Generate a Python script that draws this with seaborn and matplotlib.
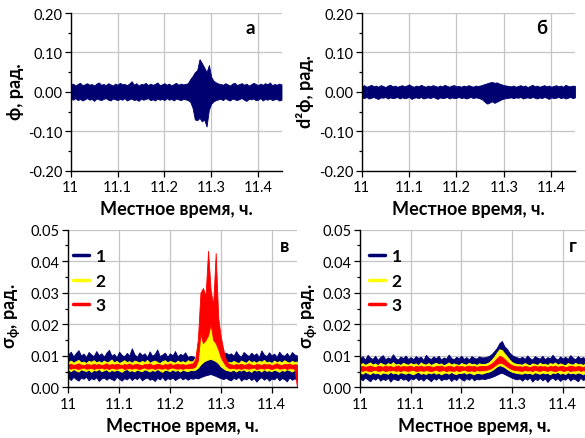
import matplotlib
matplotlib.use("Agg")
import matplotlib.pyplot as plt
import pandas as pd
import seaborn as sns
from matplotlib.lines import Line2D
from matplotlib.ticker import FixedLocator, FixedFormatter, MultipleLocator

# ---------------- data ----------------
T = [11.000, 11.005, 11.010, 11.015, 11.020, 11.025, 11.030, 11.035, 11.040, 11.045,
     11.050, 11.055, 11.060, 11.065, 11.070, 11.075, 11.080, 11.085, 11.090, 11.095,
     11.100, 11.105, 11.110, 11.115, 11.120, 11.125, 11.130, 11.135, 11.140, 11.145,
     11.150, 11.155, 11.160, 11.165, 11.170, 11.175, 11.180, 11.185, 11.190, 11.195,
     11.200, 11.205, 11.210, 11.215, 11.220, 11.225, 11.230, 11.235, 11.240, 11.245,
     11.250, 11.255, 11.260, 11.265, 11.270, 11.275, 11.280, 11.285, 11.290, 11.295,
     11.300, 11.305, 11.310, 11.315, 11.320, 11.325, 11.330, 11.335, 11.340, 11.345,
     11.350, 11.355, 11.360, 11.365, 11.370, 11.375, 11.380, 11.385, 11.390, 11.395,
     11.400, 11.405, 11.410, 11.415, 11.420, 11.425, 11.430, 11.435, 11.440, 11.445,
     11.450]

# panel a: phase, upper / lower envelope of the noisy record
PHI_HI = [0.018, 0.021, 0.016, 0.020, 0.023, 0.017, 0.019,
          0.022, 0.018, 0.020, 0.016, 0.021, 0.024, 0.018,
          0.020, 0.017, 0.022, 0.019, 0.016, 0.021, 0.018,
          0.023, 0.019, 0.020, 0.017, 0.021, 0.027, 0.018,
          0.022, 0.016, 0.020, 0.019, 0.023, 0.017, 0.021,
          0.018, 0.020, 0.024, 0.017, 0.019, 0.022, 0.018,
          0.021, 0.016, 0.020, 0.023, 0.018, 0.021, 0.019,
          0.020, 0.022, 0.032, 0.040, 0.050, 0.055, 0.083, 0.073, 0.062, 0.050, 0.068, 0.038, 0.028, 0.024, 0.021,
          0.020, 0.018, 0.022, 0.019, 0.016, 0.021, 0.023, 0.017, 0.020,
          0.022, 0.018, 0.021, 0.016, 0.019, 0.023, 0.020, 0.017, 0.021,
          0.018, 0.022, 0.019, 0.024, 0.017, 0.020, 0.018, 0.021, 0.019]
PHI_LO = [-0.017, -0.020, -0.016, -0.021, -0.018, -0.022, -0.019,
          -0.016, -0.020, -0.018, -0.023, -0.017, -0.019, -0.021,
          -0.018, -0.016, -0.020, -0.022, -0.017, -0.019, -0.021,
          -0.018, -0.020, -0.016, -0.022, -0.019, -0.017, -0.021,
          -0.019, -0.023, -0.017, -0.020, -0.018, -0.016, -0.021,
          -0.019, -0.022, -0.017, -0.020, -0.018, -0.021, -0.016,
          -0.020, -0.018, -0.022, -0.017, -0.019, -0.021, -0.018,
          -0.019, -0.021, -0.025, -0.040, -0.070, -0.072, -0.066, -0.075, -0.070, -0.088, -0.045, -0.030, -0.024, -0.021, -0.019,
          -0.018, -0.021, -0.016, -0.020, -0.022, -0.017, -0.019, -0.021, -0.018,
          -0.016, -0.020, -0.023, -0.018, -0.019, -0.017, -0.021, -0.020, -0.016,
          -0.022, -0.018, -0.020, -0.017, -0.021, -0.019, -0.018, -0.022, -0.020]

# panel b: second difference of phase
D2_HI = [0.014, 0.017, 0.013, 0.015, 0.018, 0.014, 0.016,
         0.013, 0.017, 0.015, 0.012, 0.016, 0.018, 0.014,
         0.016, 0.013, 0.015, 0.017, 0.014, 0.016, 0.019,
         0.015, 0.013, 0.016, 0.014, 0.018, 0.015, 0.013,
         0.016, 0.014, 0.017, 0.015, 0.013, 0.016, 0.014,
         0.018, 0.015, 0.013, 0.016, 0.017, 0.014, 0.015,
         0.013, 0.016, 0.014, 0.017, 0.015, 0.013, 0.016,
         0.015, 0.016, 0.018, 0.020, 0.022, 0.024, 0.025, 0.023, 0.024, 0.021, 0.019, 0.017, 0.016, 0.015, 0.014,
         0.016, 0.013, 0.015, 0.017, 0.014, 0.016, 0.012, 0.015, 0.018,
         0.014, 0.016, 0.013, 0.015, 0.017, 0.014, 0.016, 0.013, 0.015,
         0.017, 0.014, 0.016, 0.013, 0.018, 0.015, 0.014, 0.016, 0.015]
D2_LO = [-0.014, -0.016, -0.013, -0.017, -0.015, -0.013, -0.016,
         -0.018, -0.014, -0.015, -0.013, -0.017, -0.014, -0.016,
         -0.015, -0.013, -0.017, -0.014, -0.016, -0.015, -0.013,
         -0.018, -0.015, -0.014, -0.016, -0.013, -0.017, -0.015,
         -0.014, -0.016, -0.013, -0.015, -0.018, -0.014, -0.016,
         -0.015, -0.013, -0.017, -0.014, -0.016, -0.015, -0.013,
         -0.016, -0.014, -0.017, -0.015, -0.013, -0.016, -0.014,
         -0.015, -0.017, -0.020, -0.026, -0.030, -0.027, -0.024, -0.028, -0.025, -0.022, -0.019, -0.017, -0.016, -0.015, -0.014,
         -0.016, -0.014, -0.015, -0.013, -0.017, -0.015, -0.014, -0.016, -0.013,
         -0.015, -0.017, -0.014, -0.016, -0.013, -0.015, -0.018, -0.014, -0.016,
         -0.015, -0.013, -0.016, -0.014, -0.017, -0.015, -0.013, -0.016, -0.014]

# panel v: sigma_phi, series 1, 2, 3
V1_HI = [0.0105, 0.0113, 0.0098, 0.0109, 0.0118, 0.0101, 0.0107,
         0.0096, 0.0112, 0.0104, 0.0099, 0.0115, 0.0102, 0.0108,
         0.0097, 0.0110, 0.0119, 0.0100, 0.0106, 0.0095, 0.0113,
         0.0103, 0.0098, 0.0109, 0.0101, 0.0124, 0.0105, 0.0097,
         0.0111, 0.0102, 0.0108, 0.0096, 0.0114, 0.0100, 0.0106,
         0.0120, 0.0099, 0.0104, 0.0110, 0.0097, 0.0108, 0.0101,
         0.0115, 0.0098, 0.0106, 0.0102, 0.0111, 0.0096, 0.0100,
         0.0098, 0.0095, 0.0092, 0.0090, 0.0092, 0.0095, 0.0100, 0.0102, 0.0098, 0.0095, 0.0090, 0.0100, 0.0106, 0.0110, 0.0104,
         0.0108, 0.0100, 0.0115, 0.0103, 0.0097, 0.0112, 0.0105, 0.0099, 0.0110,
         0.0102, 0.0108, 0.0096, 0.0117, 0.0104, 0.0099, 0.0111, 0.0101, 0.0107,
         0.0097, 0.0113, 0.0103, 0.0100, 0.0109, 0.0098, 0.0112, 0.0104, 0.0101]
V1_LO = [0.0030, 0.0023, 0.0033, 0.0026, 0.0021, 0.0031, 0.0027,
         0.0034, 0.0022, 0.0029, 0.0025, 0.0032, 0.0020, 0.0028,
         0.0031, 0.0024, 0.0030, 0.0026, 0.0022, 0.0033, 0.0027,
         0.0021, 0.0029, 0.0025, 0.0032, 0.0023, 0.0030, 0.0026,
         0.0033, 0.0022, 0.0028, 0.0031, 0.0024, 0.0027, 0.0020,
         0.0030, 0.0025, 0.0033, 0.0022, 0.0029, 0.0026, 0.0031,
         0.0023, 0.0028, 0.0032, 0.0025, 0.0030, 0.0024, 0.0029,
         0.0027, 0.0030, 0.0028, 0.0032, 0.0035, 0.0038, 0.0040, 0.0042, 0.0039, 0.0036, 0.0032, 0.0029, 0.0026, 0.0030, 0.0025,
         0.0022, 0.0030, 0.0026, 0.0033, 0.0021, 0.0028, 0.0025, 0.0031, 0.0023,
         0.0029, 0.0018, 0.0027, 0.0032, 0.0024, 0.0030, 0.0021, 0.0028, 0.0025,
         0.0033, 0.0022, 0.0029, 0.0026, 0.0019, 0.0031, 0.0024, 0.0028, 0.0026]
V2_HI = [0.0080, 0.0085, 0.0078, 0.0083, 0.0087, 0.0079, 0.0082,
         0.0077, 0.0084, 0.0081, 0.0086, 0.0079, 0.0083, 0.0078,
         0.0085, 0.0080, 0.0082, 0.0088, 0.0079, 0.0084, 0.0077,
         0.0081, 0.0086, 0.0080, 0.0083, 0.0078, 0.0085, 0.0082,
         0.0079, 0.0084, 0.0080, 0.0087, 0.0078, 0.0082, 0.0085,
         0.0080, 0.0077, 0.0083, 0.0086, 0.0079, 0.0084, 0.0081,
         0.0078, 0.0085, 0.0080, 0.0083, 0.0079, 0.0086, 0.0082,
         0.0083, 0.0095, 0.0150, 0.0200, 0.0160, 0.0165, 0.0175, 0.0240, 0.0165, 0.0150, 0.0132, 0.0100, 0.0088, 0.0082, 0.0080,
         0.0079, 0.0084, 0.0080, 0.0077, 0.0085, 0.0081, 0.0078, 0.0086, 0.0080,
         0.0083, 0.0078, 0.0084, 0.0081, 0.0087, 0.0079, 0.0082, 0.0077, 0.0085,
         0.0080, 0.0083, 0.0079, 0.0086, 0.0081, 0.0078, 0.0084, 0.0080, 0.0082]
V2_LO = [0.0056, 0.0051, 0.0058, 0.0053, 0.0050, 0.0057, 0.0054,
         0.0052, 0.0056, 0.0049, 0.0055, 0.0053, 0.0058, 0.0051,
         0.0054, 0.0057, 0.0050, 0.0055, 0.0052, 0.0056, 0.0053,
         0.0049, 0.0055, 0.0058, 0.0052, 0.0054, 0.0050, 0.0056,
         0.0053, 0.0051, 0.0057, 0.0054, 0.0050, 0.0055, 0.0052,
         0.0058, 0.0053, 0.0049, 0.0056, 0.0054, 0.0051, 0.0057,
         0.0052, 0.0055, 0.0050, 0.0056, 0.0053, 0.0051, 0.0055,
         0.0054, 0.0056, 0.0062, 0.0072, 0.0080, 0.0085, 0.0088, 0.0090, 0.0087, 0.0083, 0.0076, 0.0066, 0.0060, 0.0055, 0.0053,
         0.0052, 0.0056, 0.0050, 0.0055, 0.0053, 0.0057, 0.0051, 0.0054, 0.0049,
         0.0056, 0.0053, 0.0055, 0.0050, 0.0057, 0.0052, 0.0054, 0.0051, 0.0056,
         0.0053, 0.0049, 0.0055, 0.0052, 0.0057, 0.0054, 0.0050, 0.0055, 0.0053]
V3_HI = [0.0072, 0.0075, 0.0071, 0.0073, 0.0076, 0.0072, 0.0070,
         0.0074, 0.0073, 0.0071, 0.0075, 0.0072, 0.0074, 0.0070,
         0.0073, 0.0076, 0.0071, 0.0074, 0.0072, 0.0075, 0.0073,
         0.0070, 0.0074, 0.0072, 0.0076, 0.0071, 0.0073, 0.0075,
         0.0072, 0.0070, 0.0074, 0.0073, 0.0076, 0.0071, 0.0072,
         0.0075, 0.0073, 0.0070, 0.0074, 0.0072, 0.0076, 0.0071,
         0.0073, 0.0075, 0.0072, 0.0074, 0.0071, 0.0073, 0.0075,
         0.0076, 0.0090, 0.0153, 0.0300, 0.0315, 0.0290, 0.0433, 0.0310, 0.0260, 0.0426, 0.0220, 0.0160, 0.0120, 0.0088, 0.0076,
         0.0073, 0.0071, 0.0074, 0.0072, 0.0075, 0.0071, 0.0073, 0.0076, 0.0072,
         0.0070, 0.0074, 0.0073, 0.0071, 0.0075, 0.0072, 0.0074, 0.0070, 0.0073,
         0.0076, 0.0072, 0.0071, 0.0074, 0.0073, 0.0075, 0.0071, 0.0073, 0.0072]
V3_LO = [0.0061, 0.0059, 0.0062, 0.0060, 0.0058, 0.0061, 0.0063,
         0.0059, 0.0060, 0.0062, 0.0058, 0.0061, 0.0060, 0.0063,
         0.0059, 0.0061, 0.0058, 0.0062, 0.0060, 0.0059, 0.0061,
         0.0063, 0.0058, 0.0060, 0.0061, 0.0059, 0.0062, 0.0060,
         0.0058, 0.0061, 0.0063, 0.0059, 0.0060, 0.0062, 0.0058,
         0.0061, 0.0060, 0.0059, 0.0062, 0.0058, 0.0061, 0.0063,
         0.0060, 0.0059, 0.0061, 0.0058, 0.0062, 0.0060, 0.0061,
         0.0062, 0.0066, 0.0085, 0.0170, 0.0140, 0.0150, 0.0165, 0.0200, 0.0150, 0.0140, 0.0120, 0.0095, 0.0080, 0.0068, 0.0062,
         0.0060, 0.0062, 0.0059, 0.0061, 0.0058, 0.0062, 0.0060, 0.0059, 0.0061,
         0.0063, 0.0058, 0.0060, 0.0061, 0.0059, 0.0062, 0.0060, 0.0058, 0.0061,
         0.0063, 0.0059, 0.0060, 0.0062, 0.0058, 0.0061, 0.0060, 0.0059, 0.0000]

# panel g: sigma_phi, series 1, 2, 3
G1_HI = [0.0092, 0.0099, 0.0088, 0.0103, 0.0094, 0.0090, 0.0100,
         0.0087, 0.0096, 0.0102, 0.0089, 0.0095, 0.0091, 0.0105,
         0.0093, 0.0088, 0.0098, 0.0092, 0.0101, 0.0090, 0.0096,
         0.0089, 0.0099, 0.0093, 0.0097, 0.0087, 0.0103, 0.0094,
         0.0090, 0.0098, 0.0092, 0.0100, 0.0088, 0.0095, 0.0091,
         0.0104, 0.0093, 0.0089, 0.0097, 0.0092, 0.0100, 0.0090,
         0.0096, 0.0088, 0.0099, 0.0094, 0.0091, 0.0098, 0.0095,
         0.0095, 0.0097, 0.0100, 0.0106, 0.0115, 0.0125, 0.0140, 0.0147, 0.0130, 0.0122, 0.0110, 0.0102, 0.0098, 0.0095, 0.0092,
         0.0097, 0.0090, 0.0101, 0.0093, 0.0088, 0.0099, 0.0094, 0.0091, 0.0100,
         0.0089, 0.0096, 0.0092, 0.0103, 0.0093, 0.0088, 0.0098, 0.0091, 0.0097,
         0.0090, 0.0102, 0.0094, 0.0089, 0.0099, 0.0092, 0.0096, 0.0090, 0.0095]
G1_LO = [0.0028, 0.0022, 0.0031, 0.0025, 0.0019, 0.0029, 0.0024,
         0.0032, 0.0021, 0.0027, 0.0023, 0.0030, 0.0018, 0.0028,
         0.0025, 0.0022, 0.0031, 0.0024, 0.0027, 0.0020, 0.0029,
         0.0025, 0.0032, 0.0023, 0.0028, 0.0021, 0.0030, 0.0026,
         0.0019, 0.0029, 0.0024, 0.0031, 0.0022, 0.0027, 0.0025,
         0.0030, 0.0020, 0.0028, 0.0023, 0.0032, 0.0026, 0.0021,
         0.0029, 0.0024, 0.0031, 0.0022, 0.0027, 0.0025, 0.0028,
         0.0026, 0.0028, 0.0030, 0.0033, 0.0036, 0.0040, 0.0044, 0.0046, 0.0042, 0.0038, 0.0034, 0.0030, 0.0027, 0.0025, 0.0028,
         0.0021, 0.0029, 0.0024, 0.0031, 0.0018, 0.0027, 0.0023, 0.0030, 0.0022,
         0.0028, 0.0017, 0.0026, 0.0031, 0.0023, 0.0029, 0.0020, 0.0027, 0.0024,
         0.0032, 0.0021, 0.0028, 0.0025, 0.0019, 0.0030, 0.0023, 0.0027, 0.0025]
G2_HI = [0.0073, 0.0077, 0.0071, 0.0075, 0.0079, 0.0072, 0.0076,
         0.0070, 0.0078, 0.0074, 0.0071, 0.0077, 0.0073, 0.0080,
         0.0072, 0.0075, 0.0071, 0.0078, 0.0074, 0.0072, 0.0077,
         0.0073, 0.0076, 0.0070, 0.0079, 0.0074, 0.0072, 0.0077,
         0.0071, 0.0075, 0.0078, 0.0073, 0.0076, 0.0070, 0.0074,
         0.0079, 0.0072, 0.0076, 0.0073, 0.0071, 0.0077, 0.0074,
         0.0072, 0.0078, 0.0073, 0.0075, 0.0071, 0.0076, 0.0074,
         0.0074, 0.0076, 0.0080, 0.0088, 0.0098, 0.0110, 0.0121, 0.0118, 0.0108, 0.0098, 0.0088, 0.0080, 0.0076, 0.0074, 0.0073,
         0.0072, 0.0077, 0.0073, 0.0070, 0.0076, 0.0074, 0.0071, 0.0078, 0.0073,
         0.0075, 0.0071, 0.0077, 0.0074, 0.0079, 0.0072, 0.0076, 0.0073, 0.0070,
         0.0077, 0.0074, 0.0072, 0.0078, 0.0073, 0.0075, 0.0071, 0.0076, 0.0074]
G2_LO = [0.0047, 0.0043, 0.0049, 0.0045, 0.0042, 0.0048, 0.0044,
         0.0046, 0.0041, 0.0047, 0.0045, 0.0043, 0.0049, 0.0044,
         0.0046, 0.0042, 0.0048, 0.0045, 0.0043, 0.0047, 0.0044,
         0.0041, 0.0046, 0.0049, 0.0043, 0.0045, 0.0042, 0.0047,
         0.0044, 0.0048, 0.0043, 0.0046, 0.0041, 0.0045, 0.0047,
         0.0043, 0.0049, 0.0044, 0.0042, 0.0046, 0.0045, 0.0048,
         0.0043, 0.0047, 0.0044, 0.0041, 0.0046, 0.0045, 0.0043,
         0.0046, 0.0048, 0.0050, 0.0054, 0.0060, 0.0066, 0.0070, 0.0068, 0.0064, 0.0058, 0.0053, 0.0049, 0.0047, 0.0045, 0.0044,
         0.0043, 0.0047, 0.0044, 0.0046, 0.0042, 0.0048, 0.0045, 0.0043, 0.0047,
         0.0044, 0.0046, 0.0041, 0.0047, 0.0045, 0.0049, 0.0043, 0.0046, 0.0042,
         0.0048, 0.0044, 0.0046, 0.0043, 0.0047, 0.0045, 0.0041, 0.0046, 0.0044]
G3_HI = [0.0066, 0.0068, 0.0065, 0.0067, 0.0069, 0.0066, 0.0064,
         0.0068, 0.0067, 0.0065, 0.0069, 0.0066, 0.0068, 0.0064,
         0.0067, 0.0069, 0.0065, 0.0068, 0.0066, 0.0067, 0.0069,
         0.0064, 0.0068, 0.0066, 0.0069, 0.0065, 0.0067, 0.0068,
         0.0066, 0.0064, 0.0068, 0.0067, 0.0069, 0.0065, 0.0066,
         0.0068, 0.0067, 0.0064, 0.0069, 0.0066, 0.0068, 0.0065,
         0.0067, 0.0069, 0.0066, 0.0068, 0.0065, 0.0067, 0.0068,
         0.0067, 0.0068, 0.0071, 0.0076, 0.0083, 0.0092, 0.0100, 0.0097, 0.0090, 0.0082, 0.0075, 0.0070, 0.0068, 0.0066, 0.0067,
         0.0065, 0.0068, 0.0066, 0.0064, 0.0067, 0.0069, 0.0065, 0.0068, 0.0066,
         0.0067, 0.0064, 0.0068, 0.0066, 0.0069, 0.0065, 0.0067, 0.0068, 0.0064,
         0.0066, 0.0069, 0.0067, 0.0065, 0.0068, 0.0066, 0.0064, 0.0067, 0.0066]
G3_LO = [0.0054, 0.0052, 0.0055, 0.0053, 0.0051, 0.0054, 0.0056,
         0.0052, 0.0053, 0.0055, 0.0051, 0.0054, 0.0053, 0.0056,
         0.0052, 0.0054, 0.0051, 0.0055, 0.0053, 0.0052, 0.0054,
         0.0056, 0.0051, 0.0053, 0.0054, 0.0052, 0.0055, 0.0053,
         0.0051, 0.0054, 0.0056, 0.0052, 0.0053, 0.0055, 0.0051,
         0.0054, 0.0053, 0.0052, 0.0055, 0.0051, 0.0054, 0.0056,
         0.0053, 0.0052, 0.0054, 0.0051, 0.0055, 0.0053, 0.0054,
         0.0054, 0.0056, 0.0058, 0.0062, 0.0068, 0.0074, 0.0078, 0.0077, 0.0072, 0.0066, 0.0061, 0.0057, 0.0055, 0.0054, 0.0053,
         0.0052, 0.0055, 0.0053, 0.0054, 0.0051, 0.0056, 0.0053, 0.0052, 0.0055,
         0.0054, 0.0052, 0.0055, 0.0053, 0.0051, 0.0054, 0.0056, 0.0052, 0.0053,
         0.0055, 0.0051, 0.0054, 0.0053, 0.0056, 0.0052, 0.0054, 0.0053, 0.0055]

SERIES = ["1", "2", "3"]
COLORS = {"1": "#000070", "2": "#ffff00", "3": "#ff0000"}

XTICKS = [11.0, 11.1, 11.2, 11.3, 11.4]
XTICK_LABELS = ["11", "11.1", "11.2", "11.3", "11.4"]
YTICKS_TOP = [-0.20, -0.10, 0.00, 0.10, 0.20]
YTICK_LABELS_TOP = ["-0.20", "-0.10", "0.00", "0.10", "0.20"]
YTICKS_BOT = [0.00, 0.01, 0.02, 0.03, 0.04, 0.05]
YTICK_LABELS_BOT = ["0.00", "0.01", "0.02", "0.03", "0.04", "0.05"]

XLABEL = "Местное время, ч."
YLABELS = ["ф, рад.", "d²ф, рад.", r"σ$_{ф}$, рад.", r"σ$_{ф}$, рад."]
PANEL_TAGS = ["а", "б", "в", "г"]

# ---------------- figure ----------------
sns.set_theme(style="white")
plt.rcParams["font.family"] = ["Lato", "DejaVu Sans"]
plt.rcParams["mathtext.fontset"] = "custom"
plt.rcParams["mathtext.rm"] = "Lato:bold"
plt.rcParams["mathtext.it"] = "Lato:bold"
plt.rcParams["mathtext.bf"] = "Lato:bold"
for key in ("text.color", "axes.labelcolor", "xtick.color", "ytick.color"):
    plt.rcParams[key] = "black"

W, H = 585, 439
fig = plt.figure(figsize=(W / 100, H / 100), dpi=100)
fig.patch.set_facecolor("white")


def fx(x):
    return x / W


def fy(y):
    return 1 - y / H


def add_axes(left, right, top, bottom):
    return fig.add_axes([fx(left), fy(bottom), (right - left) / W, (bottom - top) / H])


def draw_bands(ax, bands):
    frames = []
    for name, (lo, hi) in bands.items():
        if len(lo) != len(T) or len(hi) != len(T):
            raise ValueError(f"series {name}: {len(lo)}/{len(hi)} values for {len(T)} times")
        frames.append(pd.DataFrame({"t": T + T, "v": list(lo) + list(hi), "s": name}))
    df = pd.concat(frames, ignore_index=True)
    sns.lineplot(data=df, x="t", y="v", hue="s", hue_order=list(bands),
                 palette={k: COLORS[k] for k in bands}, estimator="mean",
                 errorbar=("pi", 100), linewidth=0,
                 err_kws={"alpha": 1, "linewidth": 0.6},
                 legend=False, ax=ax)


def style(ax, yticks, ylabels, ylim, yminor):
    ax.set_xlim(11.0, 11.45)
    ax.set_ylim(*ylim)
    ax.xaxis.set_major_locator(FixedLocator(XTICKS))
    ax.xaxis.set_major_formatter(FixedFormatter(XTICK_LABELS))
    ax.yaxis.set_major_locator(FixedLocator(yticks))
    ax.yaxis.set_major_formatter(FixedFormatter(ylabels))
    ax.yaxis.set_minor_locator(MultipleLocator(yminor))
    ax.grid(True, which="major", color="#c4c4c4", lw=0.9)
    ax.set_axisbelow(True)
    for s in ("top", "right"):
        ax.spines[s].set_visible(False)
    for s in ("left", "bottom"):
        ax.spines[s].set_color("black")
        ax.spines[s].set_linewidth(1.0)
    ax.tick_params(which="major", direction="out", length=4, width=0.9,
                   labelsize=10.5, pad=2, left=True, bottom=True, colors="black")
    ax.tick_params(axis="y", which="minor", direction="out", length=2.5, width=0.9, left=True)
    ax.tick_params(axis="x", which="minor", bottom=False)
    ax.tick_params(axis="x", which="major", pad=3)
    ax.set_xlabel("")
    ax.set_ylabel("")
    ax.set_facecolor("white")


ax_a = add_axes(70.7, 281.5, 14, 171.7)
ax_b = add_axes(361.7, 575.0, 14, 171.7)
ax_v = add_axes(68.3, 297.0, 230.7, 388.3)
ax_g = add_axes(360.0, 588.0, 230.7, 388.3)

draw_bands(ax_a, {"1": (PHI_LO, PHI_HI)})
draw_bands(ax_b, {"1": (D2_LO, D2_HI)})
draw_bands(ax_v, {"1": (V1_LO, V1_HI), "2": (V2_LO, V2_HI), "3": (V3_LO, V3_HI)})
draw_bands(ax_g, {"1": (G1_LO, G1_HI), "2": (G2_LO, G2_HI), "3": (G3_LO, G3_HI)})

for ax in (ax_a, ax_b):
    style(ax, YTICKS_TOP, YTICK_LABELS_TOP, (-0.20, 0.20), 0.05)
for ax in (ax_v, ax_g):
    style(ax, YTICKS_BOT, YTICK_LABELS_BOT, (0.0, 0.05), 0.005)

# axis titles
for (x, y) in [(176.5, 210), (468, 210), (182.5, 426.5), (474, 426.5)]:
    fig.text(fx(x), fy(y), XLABEL, ha="center", va="center", fontsize=13, fontweight="bold")
for (x, y), lab in zip([(15, 92), (305, 92), (13, 316), (310, 316)], YLABELS):
    fig.text(fx(x), fy(y), lab, ha="center", va="center", rotation=90,
             fontsize=13, fontweight="bold")

# panel tags
for (x, y), tag in zip([(250, 28), (542, 28), (285, 247), (573, 247)], PANEL_TAGS):
    fig.text(fx(x), fy(y), tag, ha="center", va="center", fontsize=13.5, fontweight="bold")

# legends
handles = [Line2D([], [], color=COLORS[s], lw=2.5) for s in SERIES]
for ax, (x, y) in [(ax_v, (73, 249)), (ax_g, (369, 249))]:
    ax.legend(handles, SERIES, loc="upper left", bbox_to_anchor=(fx(x), fy(y)),
              bbox_transform=fig.transFigure, frameon=False, borderpad=0,
              borderaxespad=0, handlelength=0.9, handletextpad=0.4,
              labelspacing=0.5, prop={"weight": "bold", "size": 12.5})

fig.savefig("out.png", dpi=100, facecolor="white")
